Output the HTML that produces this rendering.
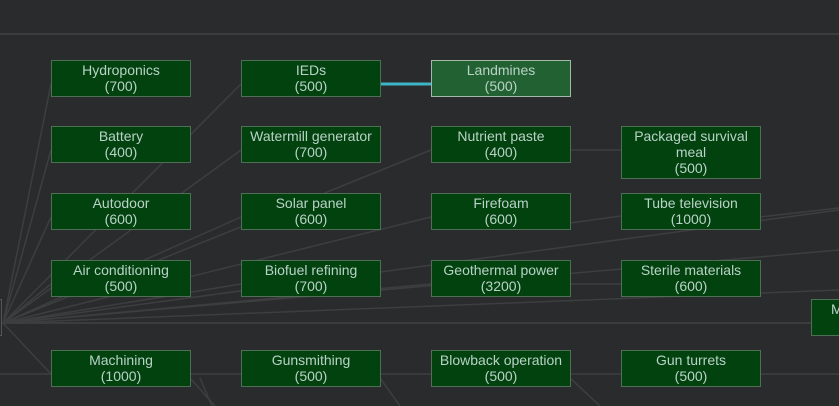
<!DOCTYPE html>
<html><head><meta charset="utf-8"><style>
html,body{margin:0;padding:0;background:#2a2b2d;width:839px;height:406px;overflow:hidden;position:relative;font-family:"Liberation Sans",sans-serif}
svg{position:absolute;left:0;top:0}
.n{position:absolute;box-sizing:border-box;width:140px;height:37px;background:#02420f;border:1px solid #4f6e56;color:#b9d2c6;font-size:14px;line-height:16px;text-align:center;padding-top:1px}
.h{background:#226232;border-color:#a4b8aa}
</style></head><body>
<svg width="839" height="406">
<g stroke="#3b3c3e" stroke-width="2" fill="none">
<line x1="0" y1="34" x2="839" y2="34"/>
<line x1="0" y1="323" x2="811" y2="323"/>
</g>
<g stroke="#3d3e40" stroke-width="1.5" fill="none">
<line x1="3" y1="323" x2="51" y2="84"/>
<line x1="3" y1="323" x2="51" y2="150"/>
<line x1="3" y1="323" x2="51" y2="217"/>
<line x1="3" y1="323" x2="51" y2="284"/>
<line x1="3" y1="323" x2="241" y2="84"/>
<line x1="3" y1="323" x2="241" y2="150"/>
<line x1="3" y1="323" x2="241" y2="217"/>
<line x1="3" y1="323" x2="241" y2="284"/>
<line x1="3" y1="323" x2="431" y2="150"/>
<line x1="3" y1="323" x2="431" y2="217"/>
<line x1="3" y1="323" x2="431" y2="284"/>
<line x1="3" y1="323" x2="839" y2="210"/>
<line x1="3" y1="323" x2="839" y2="290"/>
<line x1="3" y1="323" x2="839" y2="250"/>
<line x1="3" y1="323" x2="51" y2="374"/>
<line x1="0" y1="374" x2="51" y2="374"/>
<line x1="190" y1="374" x2="241" y2="374"/>
<line x1="380" y1="374" x2="431" y2="374"/>
<line x1="570" y1="374" x2="621" y2="374"/>
<line x1="760" y1="374" x2="839" y2="374"/>
<line x1="570" y1="150" x2="621" y2="150"/>
<line x1="570" y1="284" x2="621" y2="284"/>
<line x1="570" y1="223" x2="621" y2="216"/>
<line x1="760" y1="217" x2="839" y2="208"/>
<line x1="190" y1="378" x2="215" y2="406"/>
<line x1="200" y1="378" x2="212" y2="406"/>
<line x1="380" y1="378" x2="400" y2="406"/>
<line x1="570" y1="378" x2="600" y2="406"/>
</g>
<line x1="380" y1="84" x2="431" y2="84" stroke="#3cb6c6" stroke-width="3"/>
</svg>
<div class="n" style="left:-138px;top:299px;background:#2a2b2d;border-color:#555"></div>
<div class="n" style="left:51px;top:60px">Hydroponics<br>(700)</div>
<div class="n" style="left:241px;top:60px">IEDs<br>(500)</div>
<div class="n h" style="left:431px;top:60px">Landmines<br>(500)</div>
<div class="n" style="left:51px;top:126px">Battery<br>(400)</div>
<div class="n" style="left:241px;top:126px">Watermill generator<br>(700)</div>
<div class="n" style="left:431px;top:126px">Nutrient paste<br>(400)</div>
<div class="n" style="left:621px;top:126px;height:53px">Packaged survival<br>meal<br>(500)</div>
<div class="n" style="left:51px;top:193px">Autodoor<br>(600)</div>
<div class="n" style="left:241px;top:193px">Solar panel<br>(600)</div>
<div class="n" style="left:431px;top:193px">Firefoam<br>(600)</div>
<div class="n" style="left:621px;top:193px">Tube television<br>(1000)</div>
<div class="n" style="left:51px;top:260px">Air conditioning<br>(500)</div>
<div class="n" style="left:241px;top:260px">Biofuel refining<br>(700)</div>
<div class="n" style="left:431px;top:260px">Geothermal power<br>(3200)</div>
<div class="n" style="left:621px;top:260px">Sterile materials<br>(600)</div>
<div class="n" style="left:811px;top:299px;text-align:left;padding-left:19px">M</div>
<div class="n" style="left:51px;top:350px">Machining<br>(1000)</div>
<div class="n" style="left:241px;top:350px">Gunsmithing<br>(500)</div>
<div class="n" style="left:431px;top:350px">Blowback operation<br>(500)</div>
<div class="n" style="left:621px;top:350px">Gun turrets<br>(500)</div>
</body></html>
